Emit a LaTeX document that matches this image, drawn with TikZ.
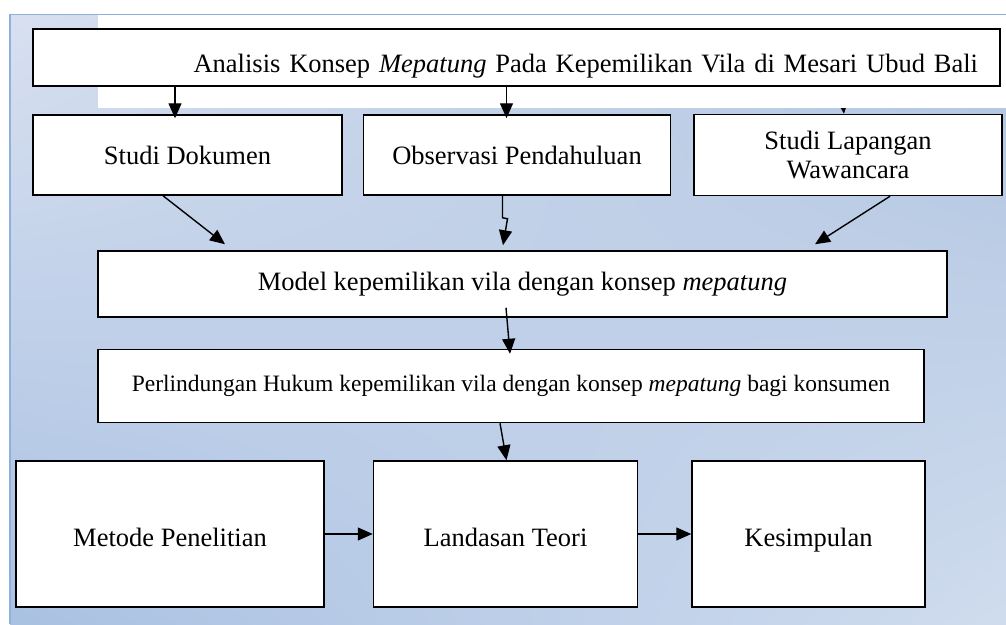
\documentclass[tikz,border=0pt]{standalone}
\usepackage{fontspec}
\setmainfont{Liberation Serif}
\usetikzlibrary{positioning,arrows.meta,shadings}

\definecolor{latarA}{HTML}{D8E0F0}
\definecolor{latarB}{HTML}{AFC4E0}
\definecolor{latarC}{HTML}{A9C1E2}
\definecolor{latarD}{HTML}{D0DCEE}
\definecolor{tepi}{HTML}{8FB0DC}

\begin{document}
\begin{tikzpicture}[x=1pt,y=-1pt,>={Triangle[length=15pt,width=13pt]},line width=1.4pt,
                    box/.style={draw,fill=white,line width=1.5pt,inner sep=0pt,align=center,
                                font=\fontsize{26.5}{29.5}\selectfont},
                    bawah/.style={box,minimum height=146pt,text height=24pt,text depth=0pt}]
                \useasboundingbox (0,0) rectangle (1006,624);
                \shade[upper left=latarA,upper right=latarB,lower left=latarC,lower right=latarD]
                    (10,14) rectangle (1006,624);
                % baris kedua
                \node[box,minimum width=309pt,minimum height=80pt] (dok) at (187.5,155) {Studi Dokumen};
                \node[box,minimum width=307pt,minimum height=80pt,right=20pt of dok] (obs) {Observasi Pendahuluan};
                \node[box,minimum width=308pt,minimum height=81pt,right=22pt of obs] (lap) {Studi Lapangan\\Wawancara};
                \coordinate (ujung) at (841,86);
                \draw[->] (ujung) -- ([xshift=-4pt]lap.north);
                \fill[white] (98,15) rectangle (1006,108);
                \draw[tepi,line width=1pt] (10,14) -- (1006,14);
                \draw[tepi,line width=2pt] (10,14) -- (10,624);
                % judul
                \node[box,text width=923pt,inner xsep=22pt,align=right,text height=43pt,text depth=14pt] (judul) at (516.5,57.5)
                    {Analisis Konsep \textit{Mepatung} Pada Kepemilikan Vila di Mesari Ubud Bali};
                \draw[->] ([xshift=-12.5pt]dok.north |- judul.south) -- ([xshift=-12.5pt,yshift=-4pt]dok.north);
                \draw[->] ([xshift=-10.5pt]obs.north |- judul.south) -- ([xshift=-10.5pt,yshift=-4pt]obs.north);
                % model dan perlindungan
                \node[box,minimum width=849pt,minimum height=66pt] (model) at (522.5,284)
                    {Model kepemilikan vila dengan konsep \textit{mepatung}};
                \node[box,minimum width=826pt,minimum height=73pt,font=\fontsize{23.5}{27}\selectfont,
                      below=31pt of model.south west,anchor=north west] (lindung)
                    {Perlindungan Hukum kepemilikan vila dengan konsep \textit{mepatung} bagi konsumen};
                \draw[->] ([xshift=-24.5pt]dok.south) -- ([xshift=-297.5pt,yshift=6pt]model.north);
                \draw[->] ([xshift=-14.5pt]obs.south) -- ++(0,22) -- ++(5,1) -- ([xshift=-19.5pt,yshift=5pt]model.north);
                \draw[->] ([xshift=42pt]lap.south) -- ([xshift=292.5pt,yshift=6pt]model.north);
                \draw[->] ([xshift=-16.5pt,yshift=10pt]model.south) -- ([xshift=-1pt,yshift=-5pt]lindung.north);
                % baris bawah
                \node[bawah,minimum width=308pt] (metode) at (170,534) {Metode Penelitian};
                \node[bawah,minimum width=264pt,right=48pt of metode] (teori) {Landasan Teori};
                \node[bawah,minimum width=233pt,right=53pt of teori] (simpul) {Kesimpulan};
                \draw[->] ([xshift=-11pt]lindung.south) -- ([xshift=1pt]teori.north);
                \draw[->] (metode) -- (teori);
                \draw[->] (teori) -- (simpul);
            \end{tikzpicture}
\end{document}
